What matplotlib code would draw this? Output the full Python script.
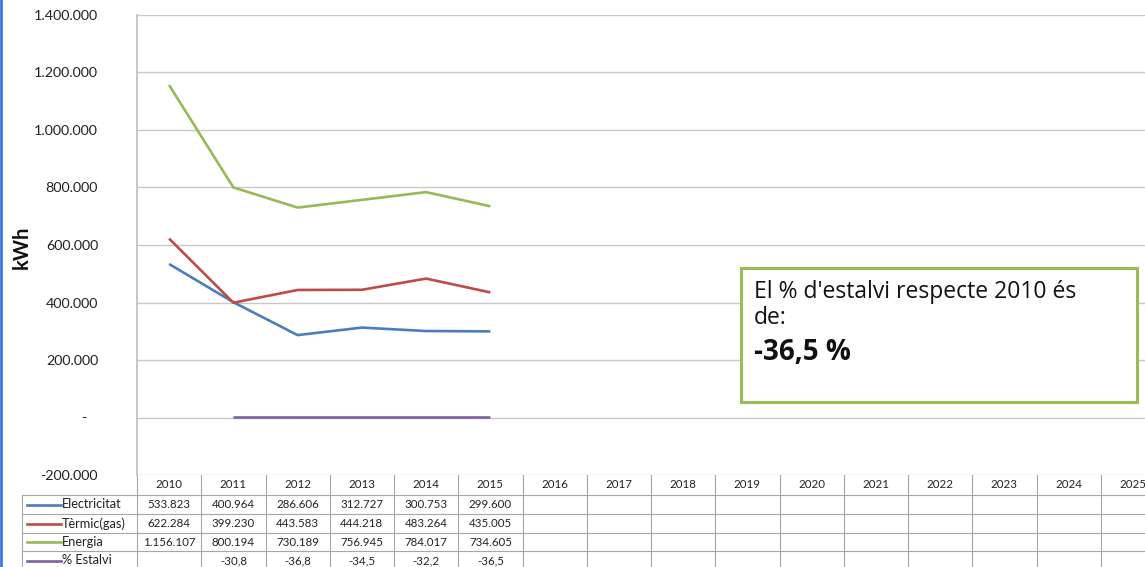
import numpy as np
import matplotlib
matplotlib.use('Agg')
import matplotlib.pyplot as plt
from matplotlib.transforms import blended_transform_factory
from matplotlib.lines import Line2D
from matplotlib.patches import Rectangle

plt.rcParams['font.family'] = ['Lato', 'DejaVu Sans']

# Dades de consum (kWh) i % d'estalvi respecte 2010
anys = [str(a) for a in range(2010, 2026)]
electricitat = [533823, 400964, 286606, 312727, 300753, 299600]
termic = [622284, 399230, 443583, 444218, 483264, 435005]
energia = [1156107, 800194, 730189, 756945, 784017, 734605]
estalvi = [np.nan, -30.8, -36.8, -34.5, -32.2, -36.5]

series = [
    ('Electricitat', electricitat, '#4A7EBB'),
    ('Tèrmic(gas)', termic, '#BE4B48'),
    ('Energia', energia, '#98B954'),
    ('% Estalvi', estalvi, '#7D60A0'),
]

W, H = 1145, 567
fig = plt.figure(figsize=(W / 100, H / 100), dpi=100)

# area del grafic en pixels
left_px, right_px, top_px, bot_px = 137, 1165, 15, 475
ax = fig.add_axes([left_px / W, (H - bot_px) / H, (right_px - left_px) / W, (bot_px - top_px) / H])
ncol = len(anys)
colw = (right_px - left_px) / ncol
ax.set_xlim(-0.5, ncol - 0.5)
ax.set_ylim(-200000, 1400000)

for nom, vals, col in series:
    ax.plot(range(len(vals)), vals, color=col, lw=1.9, solid_capstyle='butt', clip_on=False)

yt = np.arange(-200000, 1400001, 200000)
ax.set_yticks(yt)
labels = []
for v in yt:
    if v == 0:
        labels.append('-   ')
    else:
        s = f'{abs(v):,}'.replace(',', '.')
        labels.append(('-' if v < 0 else '') + s)
ax.set_yticklabels(labels, fontsize=10.3, color='#222222')
ax.tick_params(axis='y', length=0, pad=28)
ax.set_xticks([])
ax.grid(axis='y', color='#C8C8C8', lw=1.0)
for s in ['top', 'right', 'bottom']:
    ax.spines[s].set_visible(False)
ax.spines['left'].set_color('#BDBDBD')
ax.spines['left'].set_linewidth(1.2)
ax.set_axisbelow(True)

fig.text(22 / W, 1 - 247 / H, 'kWh', rotation=90, fontsize=14.5, fontweight='bold',
         ha='center', va='center', color='#111111')

# taula de dades sota el grafic
tab = fig.add_axes([0, 0, 1, (H - bot_px) / H])
tab.set_xlim(0, 1)
tab.set_ylim(H - bot_px, 0)
tab.axis('off')
tr = blended_transform_factory(ax.transData, tab.transData)

def px2x(px):
    return -0.5 + (px - left_px) / colw

row_edges = [0, 20, 39, 58, 76, 95]
grid_c = '#A6A6A6'

# capcalera d'anys
for i, a in enumerate(anys):
    tab.text(i, (row_edges[0] + row_edges[1]) / 2, a, transform=tr, ha='center', va='center',
             fontsize=8.3, color='#222222', clip_on=False)
# linies verticals de columna
for i in range(ncol + 1):
    tab.add_line(Line2D([i - 0.5, i - 0.5], [0, 95], transform=tr, color=grid_c, lw=0.8))
# linies horitzontals
for r in row_edges[1:]:
    tab.add_line(Line2D([px2x(22), ncol - 0.5], [r, r], transform=tr, color=grid_c, lw=0.8))
tab.add_line(Line2D([px2x(22), px2x(22)], [row_edges[1], 95], transform=tr, color=grid_c, lw=0.8))

def fmt(v):
    if isinstance(v, float):
        if np.isnan(v):
            return ''
        return f'{v:.1f}'.replace('.', ',')
    return f'{v:,}'.replace(',', '.')

for k, (nom, vals, col) in enumerate(series):
    yc = (row_edges[k + 1] + row_edges[k + 2]) / 2
    tab.add_line(Line2D([px2x(27), px2x(61)], [yc, yc], transform=tr, color=col, lw=1.9))
    tab.text(px2x(62), yc, nom, transform=tr, ha='left', va='center', fontsize=9.2,
             color='#222222', clip_on=False)
    for i, v in enumerate(vals):
        tab.text(i, yc, fmt(v), transform=tr, ha='center', va='center', fontsize=8.3,
                 color='#222222', clip_on=False)

# quadre amb el % d'estalvi final
box = Rectangle((741 / W, 1 - 402 / H), (1137 - 741) / W, (402 - 268) / H, transform=fig.transFigure,
                facecolor='white', edgecolor='#9BBB59', lw=2.2, zorder=5)
fig.add_artist(box)
box_font = ['Open Sans', 'DejaVu Sans']
fig.text(754 / W, 1 - 292 / H, "El % d'estalvi respecte 2010 és", fontsize=16.5, va='center',
         ha='left', color='#111111', zorder=6, family=box_font)
fig.text(754 / W, 1 - 318 / H, 'de:', fontsize=16.5, va='center', ha='left', color='#111111',
         zorder=6, family=box_font)
fig.text(754 / W, 1 - 352 / H, fmt(estalvi[-1]) + ' %', fontsize=20, fontweight='bold',
         va='center', ha='left', color='#111111', zorder=6, family=box_font)

# vora blava a l'esquerra
fig.add_artist(Line2D([1 / W, 1 / W], [0, 1], transform=fig.transFigure, color='#3C78D8', lw=2))

fig.savefig('out.png', dpi=100, facecolor='white')
